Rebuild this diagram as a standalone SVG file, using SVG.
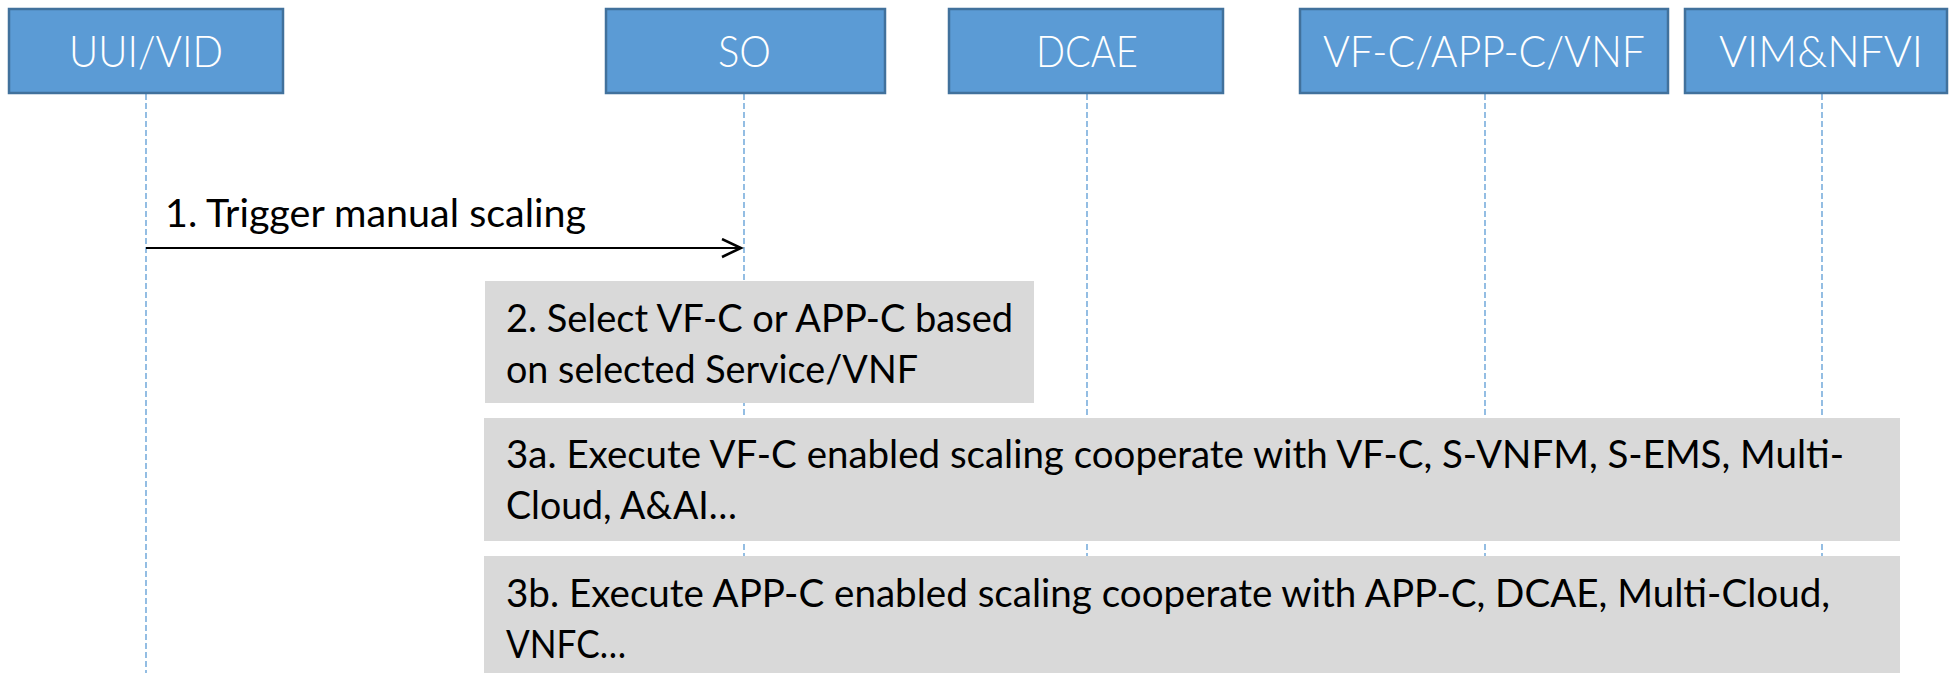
<svg xmlns="http://www.w3.org/2000/svg" width="1951" height="673" viewBox="0 0 1951 673">
<style>
.hdr{fill:#5B9BD5;stroke:#41719C;stroke-width:2.5}
.htxt{font-family:Lato,"Liberation Sans",sans-serif;font-size:44px;font-weight:300;fill:#FFFFFF}
.note{fill:#D9D9D9}
.txt{font-family:Lato,"Liberation Sans",sans-serif;font-size:39px;fill:#000000}
.life{stroke:#5B9BD5;stroke-width:1.3;stroke-dasharray:6 3;fill:none}
.msg{stroke:#000000;stroke-width:2;fill:none}
</style>
<defs>
<marker id="open" markerWidth="24" markerHeight="24" refX="20" refY="10" orient="auto" markerUnits="userSpaceOnUse">
<polyline points="1,1 20,10 1,19" fill="none" stroke="#000000" stroke-width="2.5"/>
</marker>
</defs>
<rect width="1951" height="673" fill="#FFFFFF"/>
<g id="connectors">
<line class="life" x1="146" y1="94" x2="146" y2="673"/>
<line class="life" x1="744" y1="94" x2="744" y2="673"/>
<line class="life" x1="1087" y1="94" x2="1087" y2="673"/>
<line class="life" x1="1485" y1="94" x2="1485" y2="673"/>
<line class="life" x1="1822" y1="94" x2="1822" y2="673"/>
<line class="msg" x1="146" y1="248" x2="741" y2="248" marker-end="url(#open)"/>
<text class="txt" x="165" y="227" textLength="421" lengthAdjust="spacingAndGlyphs">1. Trigger manual scaling</text>
</g>
<g id="uui-vid">
<rect class="hdr" x="9" y="9" width="274" height="84"/>
<text class="htxt" x="69" y="67" textLength="154" lengthAdjust="spacingAndGlyphs">UUI/VID</text>
</g>
<g id="so">
<rect class="hdr" x="606" y="9" width="279" height="84"/>
<text class="htxt" x="718" y="67" textLength="53" lengthAdjust="spacingAndGlyphs">SO</text>
</g>
<g id="dcae">
<rect class="hdr" x="949" y="9" width="274" height="84"/>
<text class="htxt" x="1036" y="67" textLength="102" lengthAdjust="spacingAndGlyphs">DCAE</text>
</g>
<g id="vfc-appc-vnf">
<rect class="hdr" x="1300" y="9" width="368" height="84"/>
<text class="htxt" x="1323" y="67" textLength="322" lengthAdjust="spacingAndGlyphs">VF-C/APP-C/VNF</text>
</g>
<g id="vim-nfvi">
<rect class="hdr" x="1685" y="9" width="262" height="84"/>
<text class="htxt" x="1719" y="67" textLength="204" lengthAdjust="spacingAndGlyphs">VIM&amp;NFVI</text>
</g>
<g id="step2">
<rect class="note" x="485" y="281" width="549" height="122"/>
<text class="txt" x="506" y="332" textLength="507" lengthAdjust="spacingAndGlyphs">2. Select VF-C or APP-C based</text>
<text class="txt" x="506" y="383" textLength="412" lengthAdjust="spacingAndGlyphs">on selected Service/VNF</text>
</g>
<g id="step3a">
<rect class="note" x="484" y="418" width="1416" height="123"/>
<text class="txt" x="506" y="468" textLength="1338" lengthAdjust="spacingAndGlyphs">3a. Execute VF-C enabled scaling cooperate with VF-C, S-VNFM, S-EMS, Multi-</text>
<text class="txt" x="506" y="519" textLength="231" lengthAdjust="spacingAndGlyphs">Cloud, A&amp;AI…</text>
</g>
<g id="step3b">
<rect class="note" x="484" y="556" width="1416" height="130"/>
<text class="txt" x="506" y="607" textLength="1324" lengthAdjust="spacingAndGlyphs">3b. Execute APP-C enabled scaling cooperate with APP-C, DCAE, Multi-Cloud,</text>
<text class="txt" x="506" y="658" textLength="120" lengthAdjust="spacingAndGlyphs">VNFC…</text>
</g>
</svg>
